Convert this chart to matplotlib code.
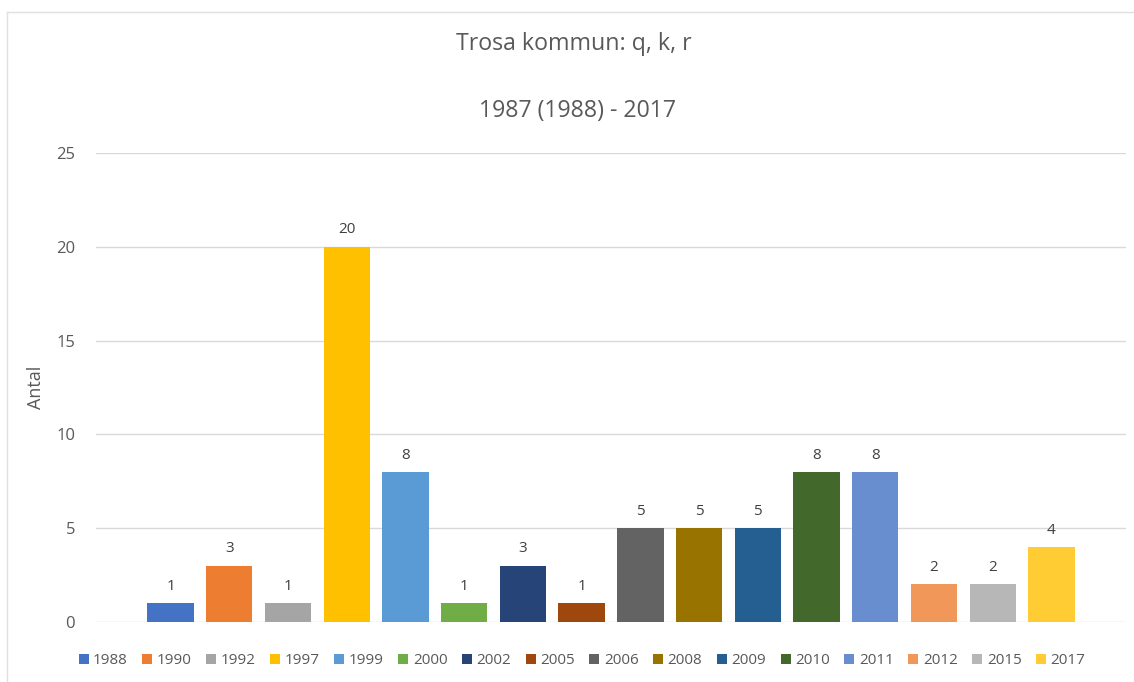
import matplotlib
matplotlib.use("Agg")
import matplotlib.pyplot as plt
from matplotlib.patches import Patch

years = ["1988", "1990", "1992", "1997", "1999", "2000", "2002", "2005",
         "2006", "2008", "2009", "2010", "2011", "2012", "2015", "2017"]
values = [1, 3, 1, 20, 8, 1, 3, 1, 5, 5, 5, 8, 8, 2, 2, 4]
colors = ["#4472C4", "#ED7D31", "#A5A5A5", "#FFC000", "#5B9BD5", "#70AD47",
          "#264478", "#9E480E", "#636363", "#997300", "#255E91", "#43682B",
          "#698ED0", "#F1975A", "#B7B7B7", "#FFCD33"]
title_lines = ["Trosa kommun: q, k, r", "1987 (1988) - 2017"]
y_label = "Antal"
y_ticks = [0, 5, 10, 15, 20, 25]

plt.rcParams['font.family'] = ['Open Sans', 'DejaVu Sans']
TXT = "#595959"

fig = plt.figure(figsize=(11.34, 6.82), dpi=100)
W, H = 1134, 682
ax = fig.add_axes([96 / W, 1 - 622 / H, (1126 - 96) / W, (622 - 153) / H])

for i, (yr, v, c) in enumerate(zip(years, values, colors)):
    ax.bar(i, v, width=0.79, color=c, label=yr, zorder=3)
    ax.text(i, v + 0.5, str(v), ha="center", va="bottom", fontsize=11,
            color="#404040", zorder=4)

ax.set_xlim(-1.27, 16.27)
ax.set_ylim(0, 25)
ax.set_yticks(y_ticks)
ax.set_xticks([])
ax.yaxis.grid(True, color="#D9D9D9", linewidth=1, zorder=0)
for s in ax.spines.values():
    s.set_visible(False)
ax.tick_params(axis="y", length=0, pad=15, labelsize=12, labelcolor=TXT)
ax.set_ylabel(y_label, fontsize=13, color=TXT)
ax.yaxis.set_label_coords(-51 / (1126 - 96), 0.5)

fig.text(574 / W, 1 - 44 / H, title_lines[0], ha="center", va="center",
         fontsize=16.7, color=TXT)
fig.text(577 / W, 1 - 111 / H, title_lines[1], ha="center", va="center",
         fontsize=16.7, color=TXT)

handles = [Patch(facecolor=c, edgecolor="none") for c in colors]
fig.legend(handles, years, loc="center", bbox_to_anchor=(582 / W, 1 - 661 / H),
           ncol=len(years), frameon=False, fontsize=11, labelcolor=TXT,
           handlelength=0.65, handleheight=0.65, handletextpad=0.3,
           columnspacing=0.95, borderaxespad=0, borderpad=0)

# outer chart border (left and top)
fig.add_artist(plt.Line2D([7 / W, 7 / W], [0, 1 - 12 / H], transform=fig.transFigure,
                          color="#E0E0E0", linewidth=1))
fig.add_artist(plt.Line2D([7 / W, 1], [1 - 12 / H, 1 - 12 / H], transform=fig.transFigure,
                          color="#E0E0E0", linewidth=1))

fig.savefig("out.png", dpi=100, facecolor="white")
